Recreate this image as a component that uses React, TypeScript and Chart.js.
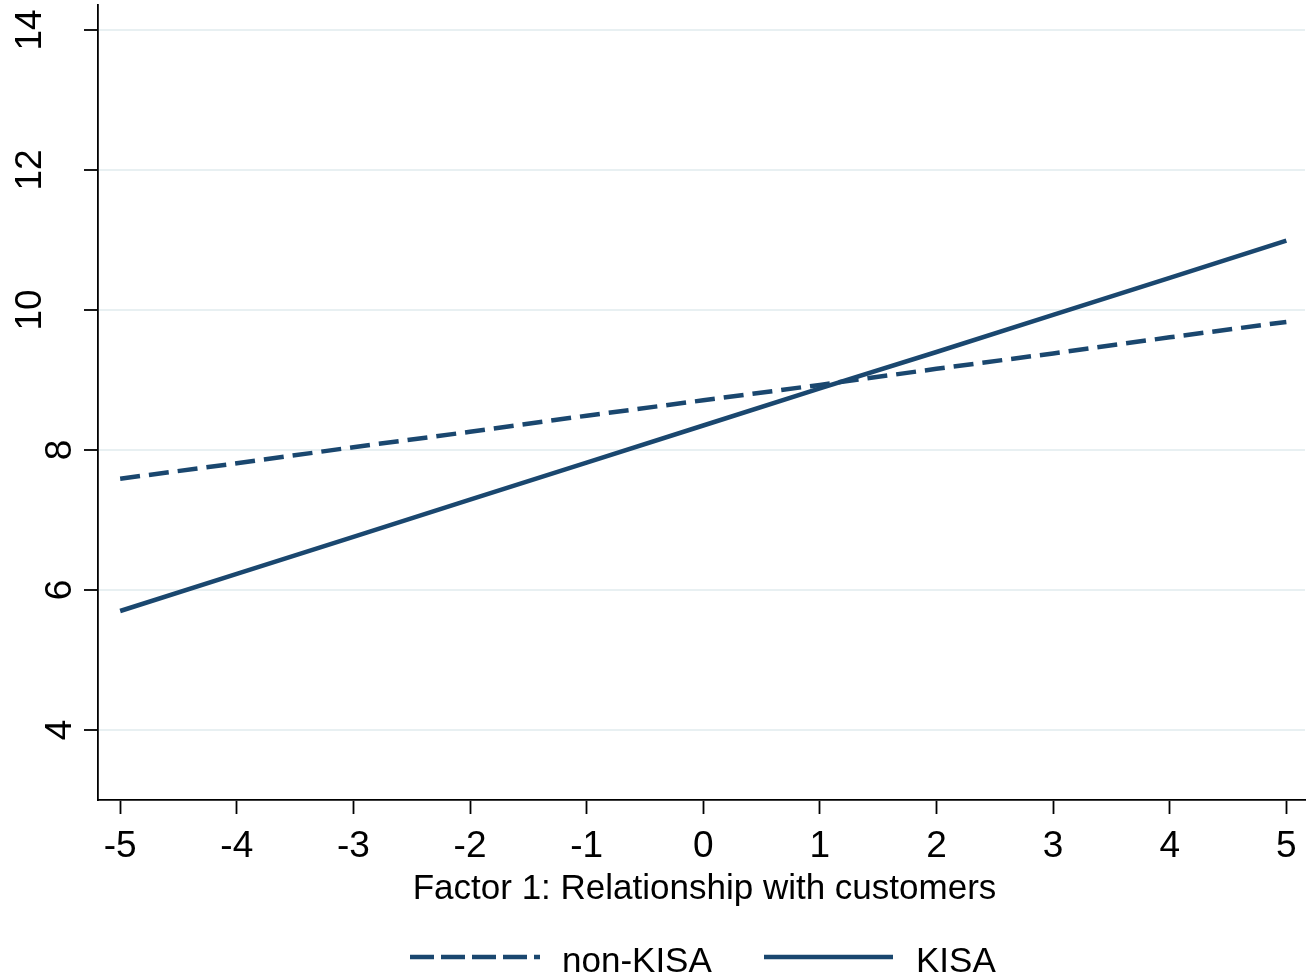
import React, { useEffect, useRef } from "react";
import { Chart, registerables } from "chart.js";

Chart.register(...registerables);

const xValues = [-5, -4, -3, -2, -1, 0, 1, 2, 3, 4, 5];
const nonKisa = [7.59, 7.81, 8.04, 8.26, 8.49, 8.71, 8.93, 9.16, 9.38, 9.61, 9.83];
const kisa = [5.7, 6.23, 6.76, 7.29, 7.82, 8.35, 8.88, 9.4, 9.93, 10.46, 10.99];
const xTicks = [-5, -4, -3, -2, -1, 0, 1, 2, 3, 4, 5];
const yTicks = [4, 6, 8, 10, 12, 14];
const xTitle = "Factor 1: Relationship with customers";
const seriesNames = ["non-KISA", "KISA"];

const NAVY = "#1a476f";
const FONT = "'Liberation Sans', Arial, sans-serif";

const textPlugin = {
  id: "stataText",
  afterDraw(chart: any) {
    const ctx = chart.ctx as CanvasRenderingContext2D;
    const xs = chart.scales.x;
    const ys = chart.scales.y;
    const area = chart.chartArea;
    ctx.save();
    ctx.fillStyle = "#000";
    // x tick labels
    ctx.font = `37px ${FONT}`;
    ctx.textAlign = "center";
    ctx.textBaseline = "alphabetic";
    xTicks.forEach((v) => {
      ctx.fillText(String(v), xs.getPixelForValue(v), 857);
    });
    // x title
    ctx.font = `35px ${FONT}`;
    ctx.fillText(xTitle, (area.left + area.right) / 2 + 3, 899);
    // y tick labels rotated
    ctx.font = `37px ${FONT}`;
    yTicks.forEach((v) => {
      const label = String(v);
      const bx = label.length > 1 ? 41 : 71;
      ctx.save();
      ctx.translate(bx, ys.getPixelForValue(v));
      ctx.rotate(-Math.PI / 2);
      ctx.textAlign = "center";
      ctx.textBaseline = "alphabetic";
      ctx.fillText(label, 0, 0);
      ctx.restore();
    });
    // legend
    const ly = 957;
    ctx.strokeStyle = NAVY;
    ctx.lineWidth = 4.5;
    ctx.lineCap = "butt";
    ctx.setLineDash([24, 7]);
    ctx.beginPath();
    ctx.moveTo(410, ly);
    ctx.lineTo(540, ly);
    ctx.stroke();
    ctx.setLineDash([]);
    ctx.beginPath();
    ctx.moveTo(764, ly);
    ctx.lineTo(893, ly);
    ctx.stroke();
    ctx.font = `35px ${FONT}`;
    ctx.textAlign = "left";
    ctx.fillText(seriesNames[0], 562, 972);
    ctx.fillText(seriesNames[1], 916, 972);
    ctx.restore();
  },
};

export default function App() {
  const ref = useRef<HTMLCanvasElement | null>(null);
  useEffect(() => {
    if (!ref.current) return;
    const chart = new Chart(ref.current, {
      type: "line",
      data: {
        datasets: [
          {
            label: seriesNames[0],
            data: xValues.map((x, i) => ({ x, y: nonKisa[i] })),
            borderColor: NAVY,
            borderWidth: 4.5,
            borderDash: [20, 9],
            pointRadius: 0,
            fill: false,
            tension: 0,
          },
          {
            label: seriesNames[1],
            data: xValues.map((x, i) => ({ x, y: kisa[i] })),
            borderColor: NAVY,
            borderWidth: 4.5,
            pointRadius: 0,
            fill: false,
            tension: 0,
          },
        ],
      },
      options: {
        animation: false,
        responsive: false,
        maintainAspectRatio: false,
        layout: { padding: { top: 5, right: 2, left: 0, bottom: 0 } },
        plugins: { legend: { display: false }, tooltip: { enabled: false } },
        scales: {
          x: {
            type: "linear",
            min: -5.19,
            max: 5.16,
            afterBuildTicks: (s: any) => {
              s.ticks = xTicks.map((v) => ({ value: v }));
            },
            afterFit: (s: any) => {
              s.height = 174;
            },
            ticks: { display: false },
            grid: {
              drawOnChartArea: false,
              drawTicks: true,
              tickLength: 14,
              tickColor: "#000",
              tickWidth: 1.8,
            },
            border: { display: true, color: "#000", width: 1.8 },
          },
          y: {
            type: "linear",
            min: 3,
            max: 3 + 795 / 70,
            afterBuildTicks: (s: any) => {
              s.ticks = yTicks.map((v) => ({ value: v }));
            },
            afterFit: (s: any) => {
              s.width = 98;
            },
            ticks: { display: false },
            grid: {
              color: "#e8f0f2",
              lineWidth: 2,
              drawTicks: true,
              tickLength: 14,
              tickColor: "#000",
              tickWidth: 1.8,
            },
            border: { display: true, color: "#000", width: 1.8 },
          },
        },
      },
      plugins: [textPlugin],
    });
    return () => chart.destroy();
  }, []);
  return (
    <div style={{ position: "fixed", left: 0, top: 0, width: 1307, height: 974, background: "#fff" }}>
      <canvas ref={ref} width={1307} height={974} style={{ width: 1307, height: 974, display: "block" }} />
    </div>
  );
}
